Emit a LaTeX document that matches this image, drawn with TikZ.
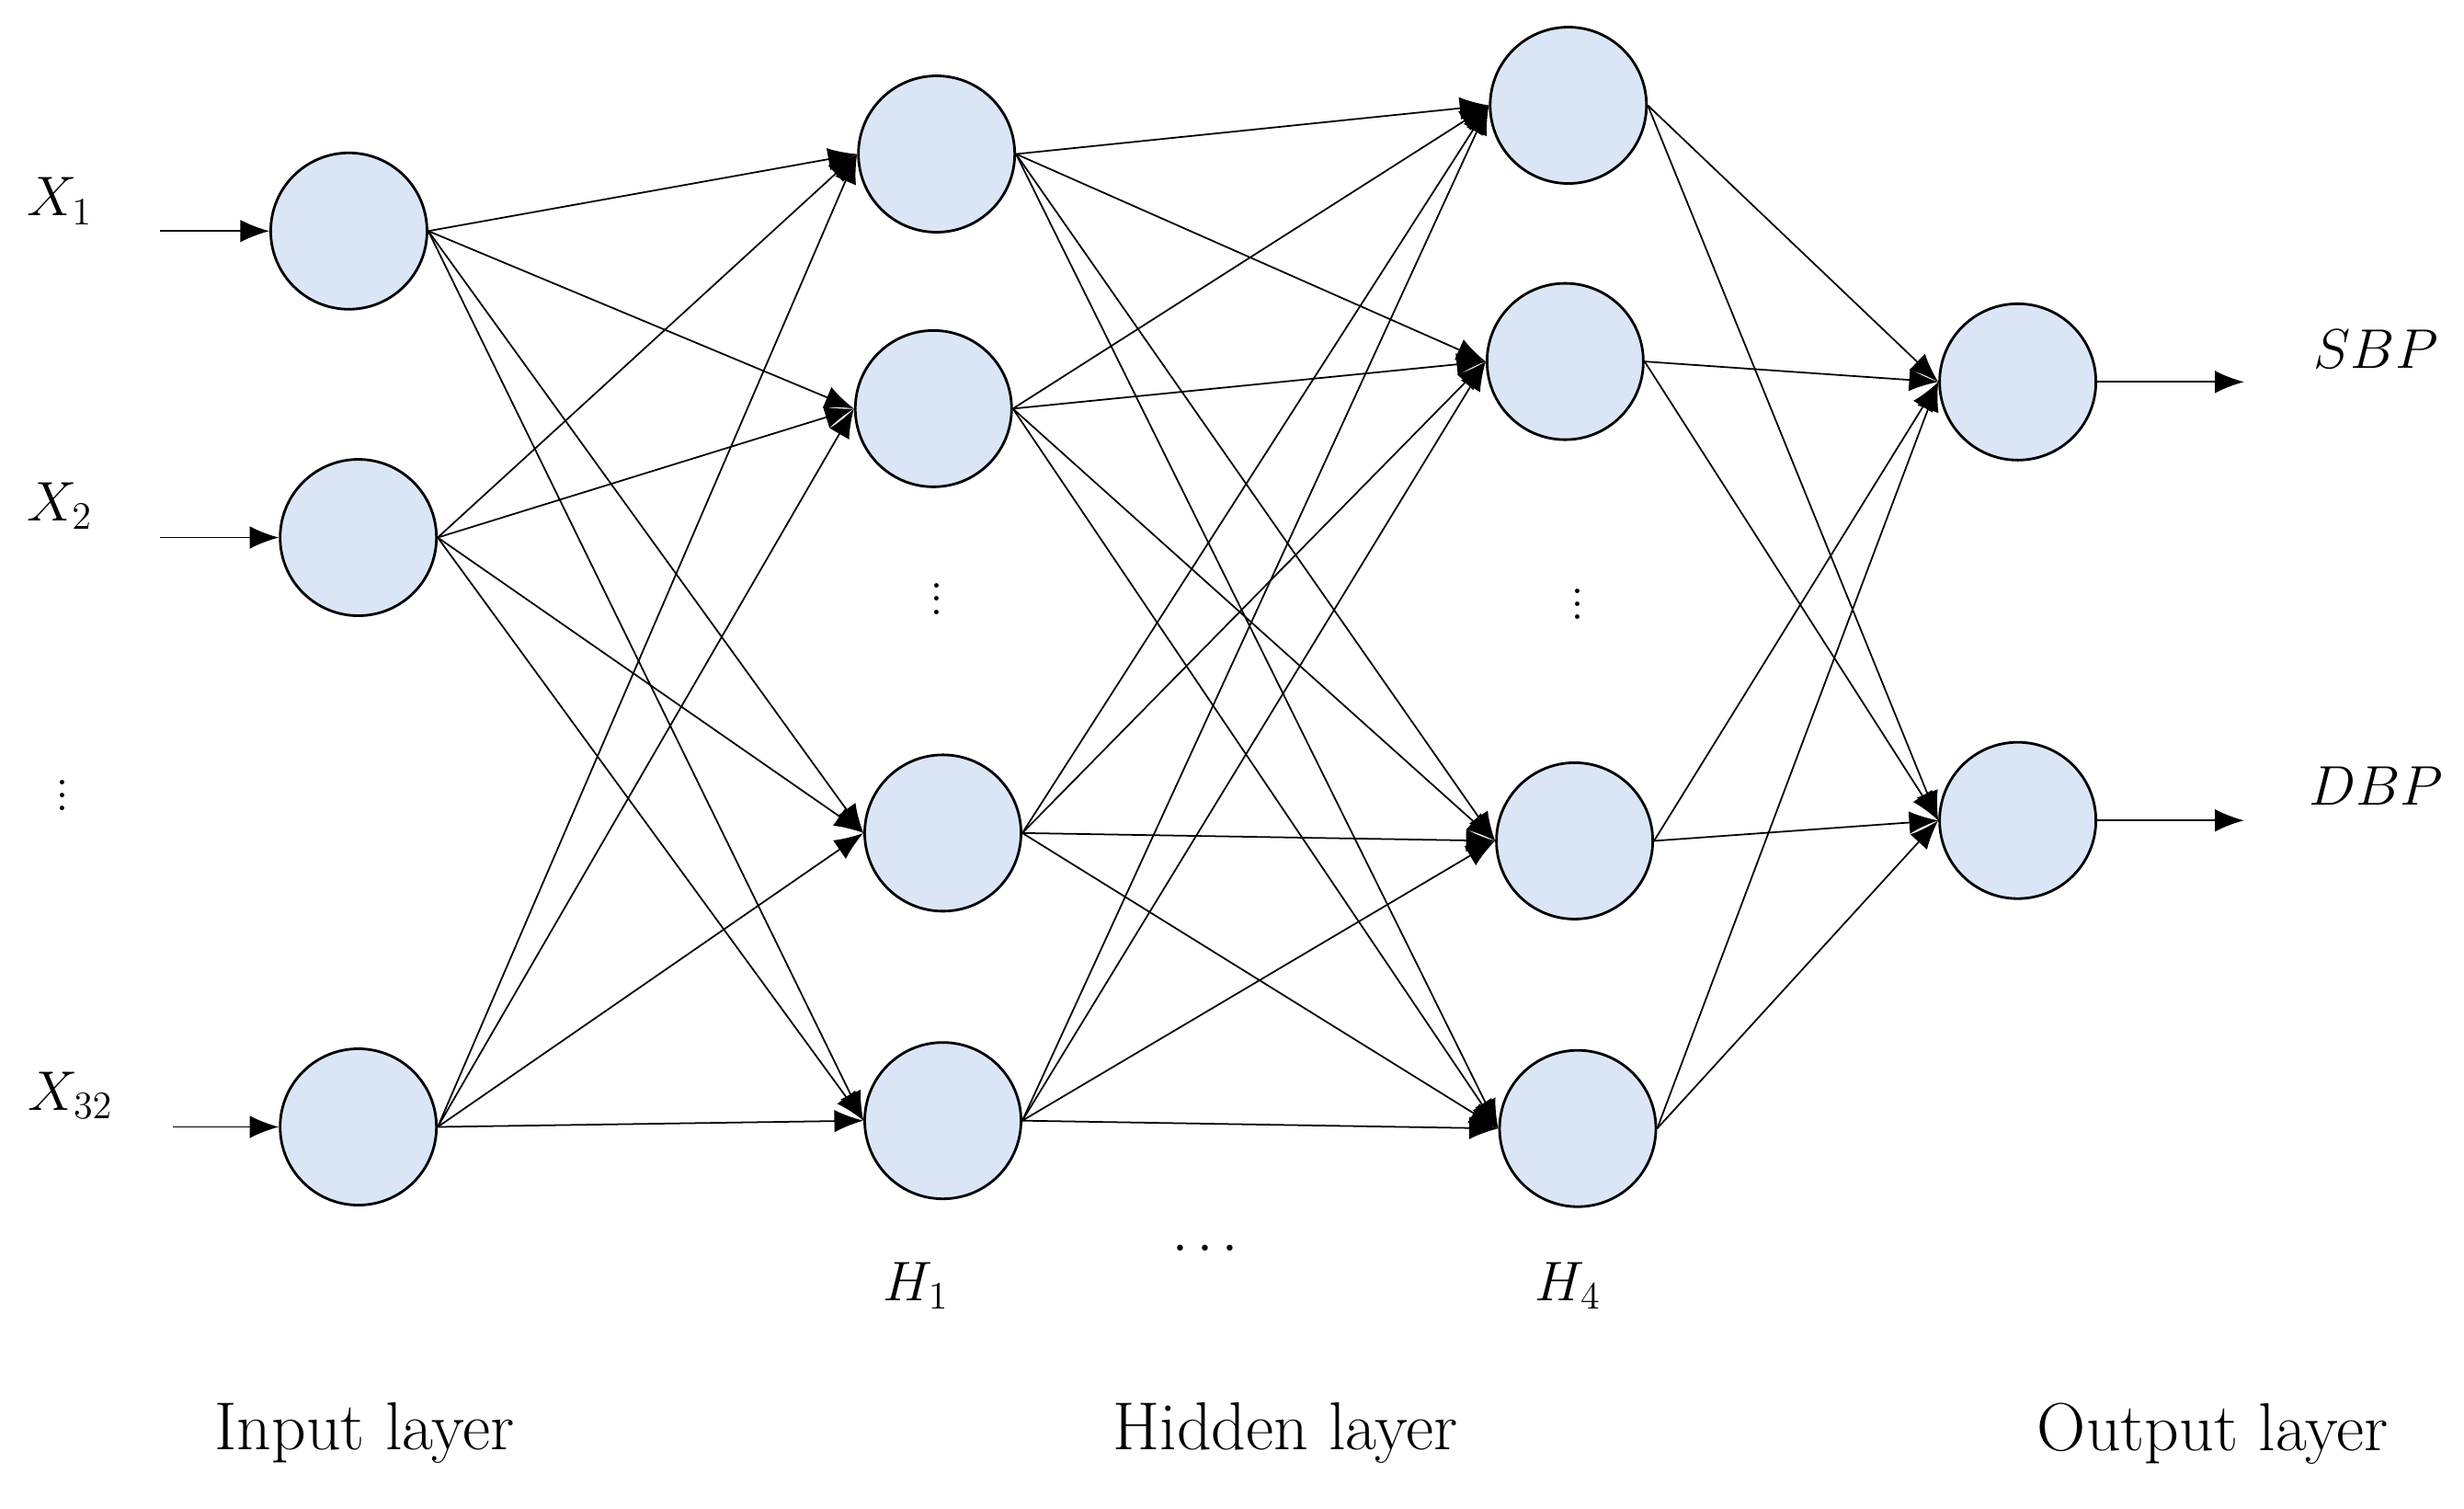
\documentclass[tikz,border=0pt]{standalone}
\usepackage{amsmath}
\usetikzlibrary{arrows.meta}
\definecolor{cellblue}{RGB}{218,230,245}
\begin{document}
\begin{tikzpicture}[x=0.01709cm,y=-0.01709cm,
                      neuron/.style = {circle, draw, thick, fill=cellblue,
                        minimum size=1.7cm, inner sep=0pt},
                      link/.style = {-{Latex[length=9pt,width=7pt]}, line width=0.5pt},
                      lbl/.style = {font=\fontsize{17}{20}\selectfont, inner sep=1pt},
                      layer/.style = {font=\fontsize{21}{24}\selectfont}]
  \useasboundingbox (0,0) rectangle (1568,960);
  % input layer
  \node[neuron] (i1) at (222,147) {};
  \node[neuron] (i2) at (228,342) {};
  \node[neuron] (i3) at (228,717) {};
  % first hidden layer
  \node[neuron] (a1) at (596,98) {};
  \node[neuron] (a2) at (594,260) {};
  \node[neuron] (a3) at (600,530) {};
  \node[neuron] (a4) at (600,713) {};
  % last hidden layer
  \node[neuron] (b1) at (998,67) {};
  \node[neuron] (b2) at (996,230) {};
  \node[neuron] (b3) at (1002,535) {};
  \node[neuron] (b4) at (1004,718) {};
  % output layer
  \node[neuron] (o1) at (1284,243) {};
  \node[neuron] (o2) at (1284,522) {};
  % labels
  \node[lbl] (x1) at (38,128) {$X_1$};
  \node[lbl] (x2) at (38,322) {$X_2$};
  \node[lbl] (xd) at (40,500) {$\vdots$};
  \node[lbl] (x3) at (45,697) {$X_{32}$};
  \node[lbl] (ad) at (596,375) {$\vdots$};
  \node[lbl] (bd) at (1004,378) {$\vdots$};
  \node[lbl] (h1) at (583,818) {$H_1$};
  \node[lbl] (hd) at (770,795) {$\cdots$};
  \node[lbl] (h4) at (998,818) {$H_4$};
  \node[lbl] (sbp) at (1512,222) {$SBP$};
  \node[lbl] (dbp) at (1512,500) {$DBP$};
  \node[layer] (li) at (232,912) {Input layer};
  \node[layer] (lh) at (818,912) {Hidden layer};
  \node[layer] (lo) at (1408,912) {Output layer};
  \coordinate (s1) at (102,147);
  \coordinate (s2) at (102,342);
  \coordinate (s3) at (110,717);
  \coordinate (t1) at (1428,243);
  \coordinate (t2) at (1428,522);
  % connections
  \foreach \k in {1,2,3}
    \draw[link] (s\k) -- (i\k);
  \foreach \k in {1,2}
    \draw[link] (o\k) -- (t\k);
  \foreach \p in {1,2,3}
    \foreach \q in {1,...,4}
      \draw[link] (i\p.east) -- (a\q.west);
  \foreach \p in {1,...,4}
    \foreach \q in {1,...,4}
      \draw[link] (a\p.east) -- (b\q.west);
  \foreach \p in {1,...,4}
    \foreach \q in {1,2}
      \draw[link] (b\p.east) -- (o\q.west);
\end{tikzpicture}
\end{document}
